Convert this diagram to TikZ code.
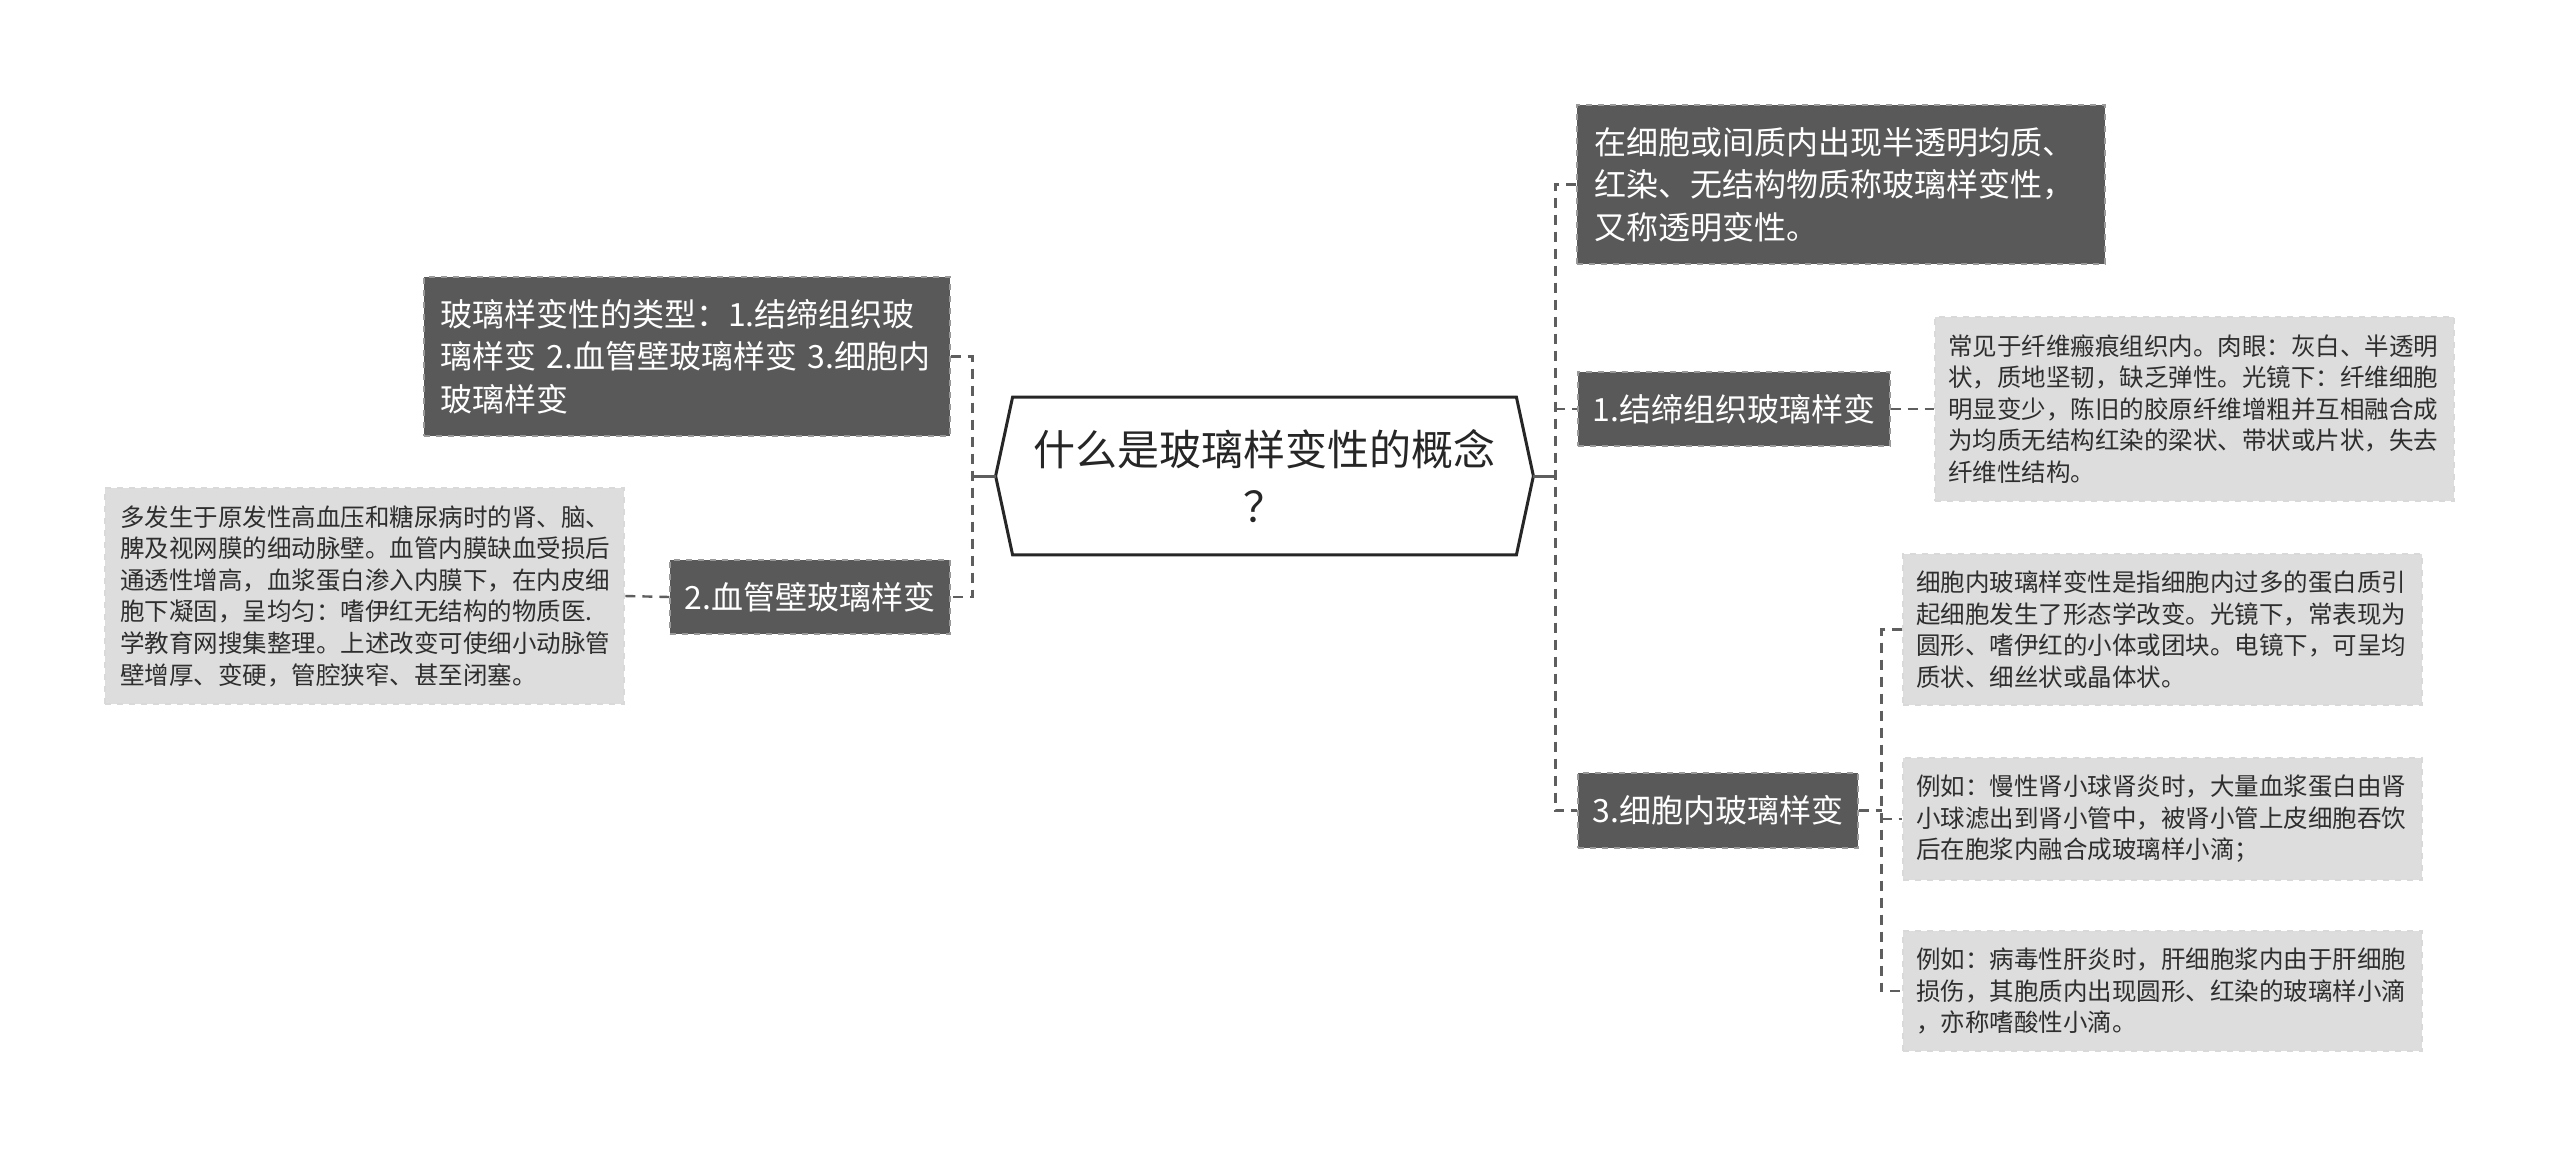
\documentclass[tikz,border=0pt]{standalone}
\usepackage{fontspec}
\setmainfont{Noto Sans CJK SC}
\usetikzlibrary{calc}
\definecolor{darkbox}{HTML}{595959}
\definecolor{lightbox}{HTML}{DDDDDD}
\definecolor{linegray}{HTML}{5E5E5E}
\definecolor{notetext}{HTML}{2E2E2E}

\begin{document}
\begin{tikzpicture}[x=0.5pt, y=-0.5pt,
    topic/.style={fill=darkbox, draw=gray!80, dashed, line width=0.6pt, text=white, inner sep=0pt,
      font=\fontsize{16}{21.2}\selectfont},
    note/.style={fill=lightbox, draw=gray!30, dashed, line width=0.6pt, text=notetext, inner sep=0pt,
      align=left, minimum width=259.5pt, text width=246.5pt, font=\fontsize{12.25}{15.8}\selectfont},
    link/.style={draw=linegray, line width=1.2pt, dash pattern=on 5pt off 3.5pt},
    stub/.style={draw=linegray, line width=1.5pt}]
    \fill[white] (0,0) rectangle (2560,1157);
    \useasboundingbox (0,0) rectangle (2560,1157);

    % Root
    \node[inner sep=0pt, minimum width=268.5pt, minimum height=78.5pt, align=center, text=black!85,
      font=\fontsize{21}{28.5}\selectfont] (root) at (1264.5,476) {什么是玻璃样变性的概念\\？};
    \draw[black!85, line width=1.5pt] (root.west) -- ($(root.north west)+(17,0)$)
      -- ($(root.north east)+(-17,0)$) -- (root.east) -- ($(root.south east)+(-17,0)$)
      -- ($(root.south west)+(17,0)$) -- cycle;

    % Left side
    \node[topic, align=left, minimum width=263pt, minimum height=79.5pt, text width=247pt] (typesnote) at (687,356.5)
      {玻璃样变性的类型：1.结缔组织玻\\璃样变 2.血管壁玻璃样变 3.细胞内\\玻璃样变};
    \node[topic, minimum width=140pt, minimum height=37pt] (vesselbox) at (810,597) {2.血管壁玻璃样变};
    \node[note, minimum height=108pt, text width=244.5pt] (vesselnote) at (364.5,596)
      {多发生于原发性高血压和糖尿病时的肾、脑、\\脾及视网膜的细动脉壁。血管内膜缺血受损后\\通透性增高，血浆蛋白渗入内膜下，在内皮细\\胞下凝固，呈均匀：嗜伊红无结构的物质医.\\学教育网搜集整理。上述改变可使细小动脉管\\壁增厚、变硬，管腔狭窄、甚至闭塞。};

    % Right side
    \node[topic, align=left, minimum width=264pt, minimum height=79.5pt, text width=247pt] (defnote) at (1841,184.5)
      {在细胞或间质内出现半透明均质、\\红染、无结构物质称玻璃样变性，\\又称透明变性。};
    \node[topic, minimum width=156pt, minimum height=37pt] (connbox) at (1734,409) {1.结缔组织玻璃样变};
    \node[topic, minimum width=140pt, minimum height=37.5pt] (cellbox) at (1718,810.5) {3.细胞内玻璃样变};
    \node[note, minimum height=92pt] (connnote) at (2194.5,409)
      {常见于纤维瘢痕组织内。肉眼：灰白、半透明\\状，质地坚韧，缺乏弹性。光镜下：纤维细胞\\明显变少，陈旧的胶原纤维增粗并互相融合成\\为均质无结构红染的梁状、带状或片状，失去\\纤维性结构。};
    \node[note, minimum height=75.5pt] (cellnote1) at (2162.5,629.5)
      {细胞内玻璃样变性是指细胞内过多的蛋白质引\\起细胞发生了形态学改变。光镜下，常表现为\\圆形、嗜伊红的小体或团块。电镜下，可呈均\\质状、细丝状或晶体状。};
    \node[note, minimum height=61pt] (cellnote2) at (2162.5,819)
      {例如：慢性肾小球肾炎时，大量血浆蛋白由肾\\小球滤出到肾小管中，被肾小管上皮细胞吞饮\\后在胞浆内融合成玻璃样小滴；};
    \node[note, minimum height=60pt] (cellnote3) at (2162.5,991)
      {例如：病毒性肝炎时，肝细胞浆内由于肝细胞\\损伤，其胞质内出现圆形、红染的玻璃样小滴\\，亦称嗜酸性小滴。};

    % Connectors
    \coordinate (lj) at ($(root.west)+(-23,0)$);
    \coordinate (rj) at ($(root.east)+(22,0)$);
    \coordinate (cj) at ($(cellbox.east)+(23,0)$);
    \draw[stub] (root.west) -- (lj);
    \draw[stub] (root.east) -- (rj);
    \draw[link] (typesnote.east) -| (lj) |- (vesselbox.east);
    \draw[link] (vesselbox.west) -- (vesselnote.east);
    \draw[link] (defnote.west) -| (rj) |- (cellbox.west);
    \draw[link] (rj |- connbox.west) -- (connbox.west);
    \draw[link] (connbox.east) -- (connnote.west);
    \draw[link] (cellbox.east) -- (cj);
    \draw[link] (cellnote1.west) -| (cj) |- (cellnote3.west);
    \draw[link] (cj |- cellnote2.west) -- (cellnote2.west);
\end{tikzpicture}
\end{document}
